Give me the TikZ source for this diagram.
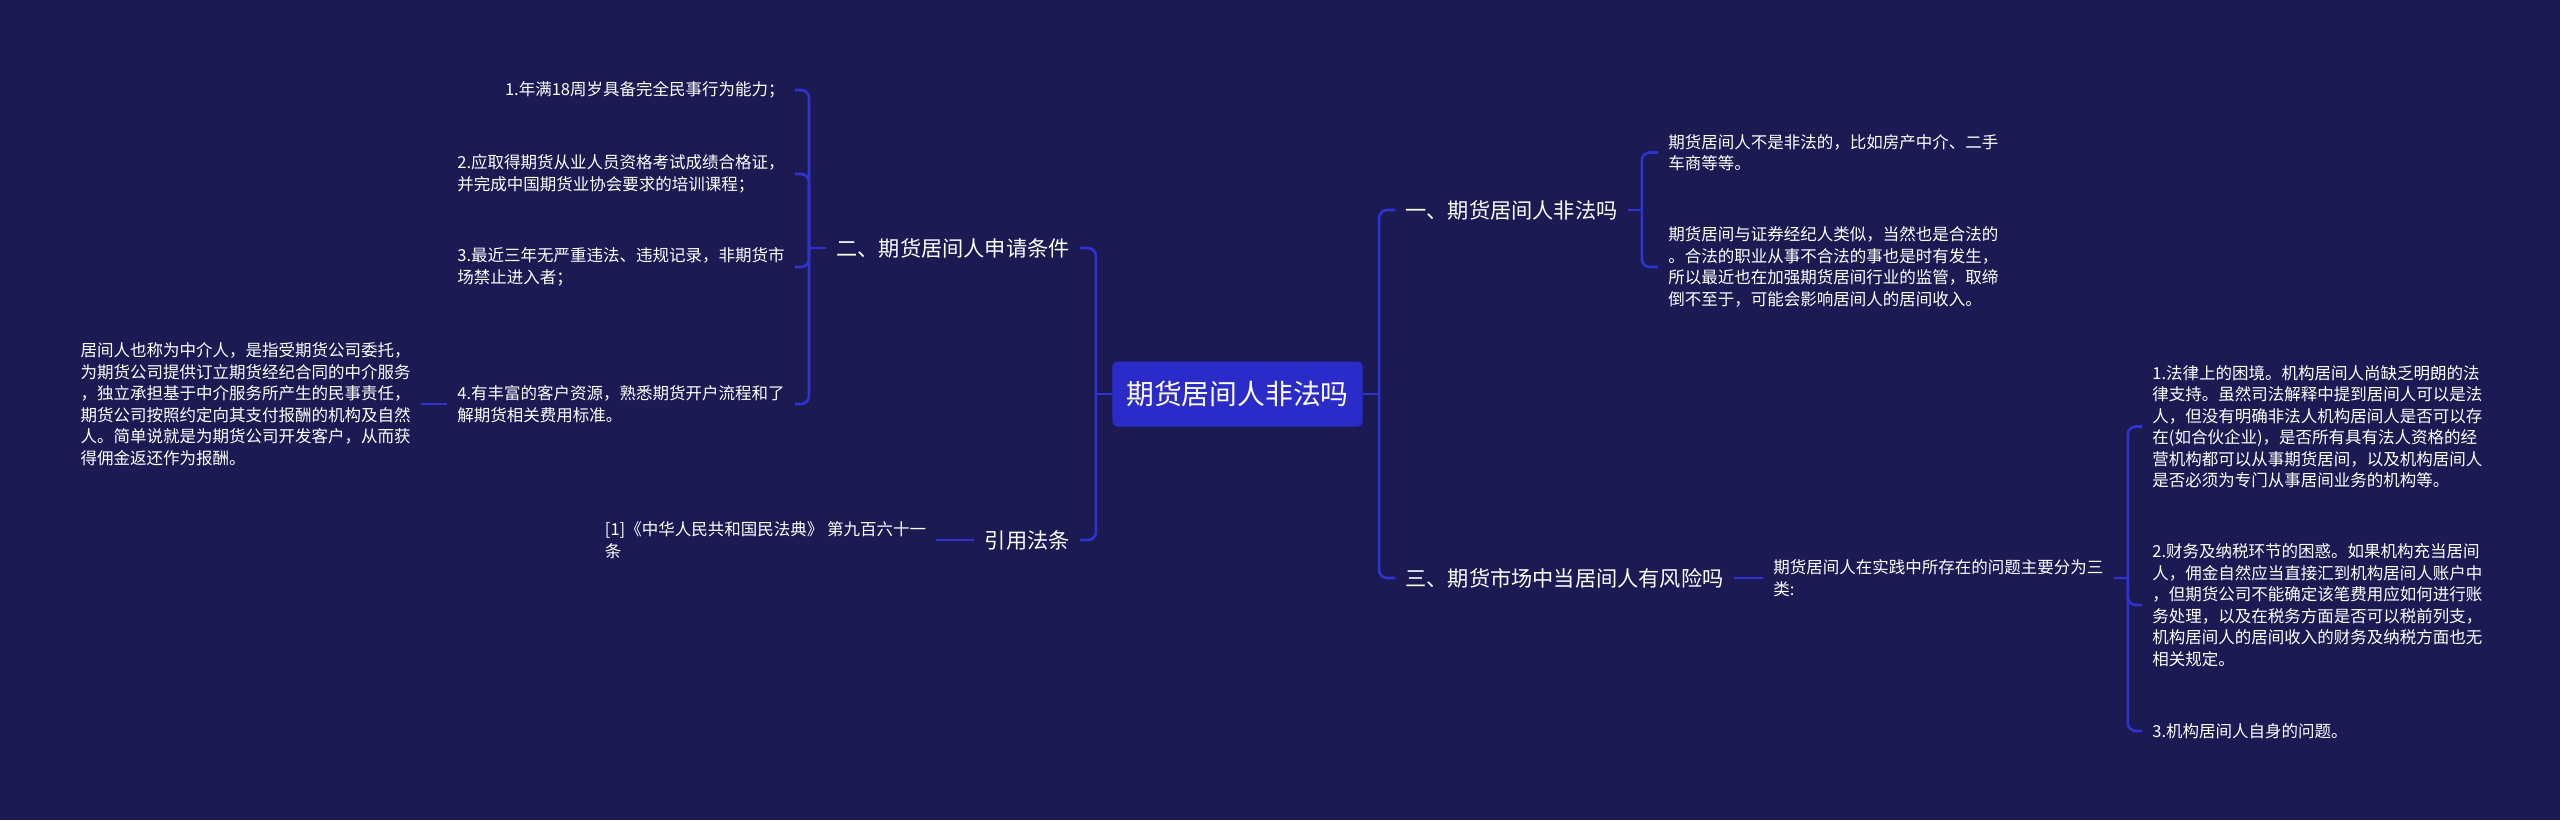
\documentclass[tikz,border=0pt]{standalone}
\usepackage{fontspec}
\setmainfont{Noto Sans CJK SC}
\usetikzlibrary{positioning}
\definecolor{bgnavy}{HTML}{1B1A53}
\definecolor{linkblue}{HTML}{2F33CF}
\definecolor{rootblue}{HTML}{2B2BC9}

\begin{document}
\begin{tikzpicture}[
  x=0.5pt, y=-0.5pt,
  root/.style={fill=rootblue, rounded corners=2.5pt, text=white, inner xsep=7pt,
               minimum height=32.5pt, font=\fontsize{13.9}{16}\selectfont},
  topic/.style={text=white, inner xsep=5pt, inner ysep=2pt,
                font=\fontsize{10.6}{13}\selectfont},
  leaf/.style={text=white, inner xsep=5pt, inner ysep=2pt, align=left,
               font=\fontsize{8.25}{10.75}\selectfont},
  link/.style={draw=linkblue, line width=1.3pt, rounded corners=4pt},
  node distance=13pt,
]
\fill[bgnavy] (0,0) rectangle (2560,820);

\node[root] (r) at (1237.5,394) {期货居间人非法吗};

% right side
\node[topic, anchor=west] (b1) at (1395,210) {一、期货居间人非法吗};
\node[topic, anchor=west] (b3) at (1395,578) {三、期货市场中当居间人有风险吗};

\node[leaf, anchor=west] (c11) at (1658,152.5) {期货居间人不是非法的，比如房产中介、二手\\车商等等。};
\node[leaf, anchor=west] (c12) at (1658,267) {期货居间与证券经纪人类似，当然也是合法的\\。合法的职业从事不合法的事也是时有发生，\\所以最近也在加强期货居间行业的监管，取缔\\倒不至于，可能会影响居间人的居间收入。};
\node[leaf, anchor=west] (c31) at (1763,578) {期货居间人在实践中所存在的问题主要分为三\\类:};

\node[leaf, anchor=west] (p1) at (2142,426.5) {1.法律上的困境。机构居间人尚缺乏明朗的法\\律支持。虽然司法解释中提到居间人可以是法\\人，但没有明确非法人机构居间人是否可以存\\在(如合伙企业)，是否所有具有法人资格的经\\营机构都可以从事期货居间，以及机构居间人\\是否必须为专门从事居间业务的机构等。};
\node[leaf, anchor=west] (p2) at (2142,605) {2.财务及纳税环节的困惑。如果机构充当居间\\人，佣金自然应当直接汇到机构居间人账户中\\，但期货公司不能确定该笔费用应如何进行账\\务处理，以及在税务方面是否可以税前列支，\\机构居间人的居间收入的财务及纳税方面也无\\相关规定。};
\node[leaf, anchor=west] (p3) at (2142,731) {3.机构居间人自身的问题。};

% left side
\node[topic, anchor=east] (b2) at (1080,248) {二、期货居间人申请条件};
\node[topic, anchor=east] (b4) at (1080,540) {引用法条};

\node[leaf, anchor=east] (a1) at (795,90) {1.年满18周岁具备完全民事行为能力；};
\node[leaf, anchor=east] (a2) at (795,174) {2.应取得期货从业人员资格考试成绩合格证，\\并完成中国期货业协会要求的培训课程；};
\node[leaf, anchor=east] (a3) at (795,267) {3.最近三年无严重违法、违规记录，非期货市\\场禁止进入者；};
\node[leaf, anchor=east] (a4) at (795,404) {4.有丰富的客户资源，熟悉期货开户流程和了\\解期货相关费用标准。};
\node[leaf, left=13pt of a4] (desc) {居间人也称为中介人，是指受期货公司委托，\\为期货公司提供订立期货经纪合同的中介服务\\，独立承担基于中介服务所产生的民事责任，\\期货公司按照约定向其支付报酬的机构及自然\\人。简单说就是为期货公司开发客户，从而获\\得佣金返还作为报酬。};
\node[leaf, left=19pt of b4] (ref) {[1]《中华人民共和国民法典》 第九百六十一\\条};

\coordinate (jr) at ([xshift=8pt]r.east);
\coordinate (jl) at ([xshift=-8pt]r.west);
\coordinate (j1) at ([xshift=7pt]b1.east);
\coordinate (j3) at ([xshift=7pt]c31.east);
\coordinate (j2) at ([xshift=-8.5pt]b2.west);

\draw[link] (r.east) -- (jr);
\draw[link] (jr) |- (b1.west);
\draw[link] (jr) |- (b3.west);
\draw[link] (r.west) -- (jl);
\draw[link] (jl) |- (b2.east);
\draw[link] (jl) |- (b4.east);

\draw[link] (b1.east) -- (j1);
\draw[link] (j1) |- (c11.west);
\draw[link] (j1) |- (c12.west);
\draw[link] (b3.east) -- (c31.west);
\draw[link] (c31.east) -- (j3);
\foreach \i in {1,2,3}
  \draw[link] (j3) |- (p\i.west);

\draw[link] (b2.west) -- (j2);
\foreach \i in {1,2,3,4}
  \draw[link] (j2) |- (a\i.east);
\draw[link] (a4.west) -- (desc.east);
\draw[link] (b4.west) -- (ref.east);
\end{tikzpicture}
\end{document}
